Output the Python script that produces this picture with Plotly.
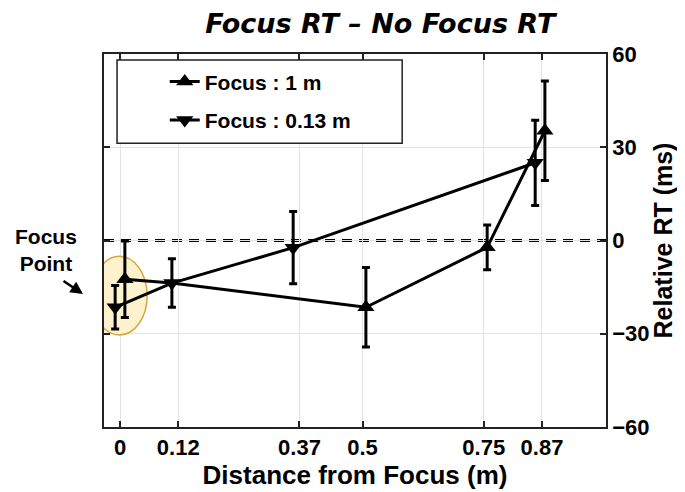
import plotly.graph_objects as go

# ---------------- data ----------------
tick_vals = [0, 0.12, 0.37, 0.5, 0.75, 0.87]
tick_text = ["0", "0.12", "0.37", "0.5", "0.75", "0.87"]
y_ticks = [-60, -30, 0, 30, 60]

far_x = [0.01, 0.507, 0.757, 0.876]          # Focus : 1 m (slightly dodged)
far_y = [-12.5, -21.5, -2.2, 35.3]
far_err = [12.3, 12.8, 7.2, 16.0]

near_x = [-0.01, 0.107, 0.357, 0.856]        # Focus : 0.13 m (slightly dodged)
near_y = [-21.5, -13.7, -2.3, 25.0]
near_err = [7.0, 7.8, 11.6, 13.7]

FONT = "Liberation Sans, Arial, sans-serif"

fig = go.Figure()

# connecting lines as drawn in the figure
line1_x = [far_x[0], near_x[1], far_x[1], far_x[2], far_x[3]]
line1_y = [far_y[0], near_y[1], far_y[1], far_y[2], far_y[3]]

fig.add_trace(go.Scatter(x=line1_x, y=line1_y, mode="lines",
                         line=dict(color="black", width=3), showlegend=False,
                         hoverinfo="skip"))
fig.add_trace(go.Scatter(x=near_x, y=near_y, mode="lines",
                         line=dict(color="black", width=3), showlegend=False,
                         hoverinfo="skip"))

fig.add_trace(go.Scatter(
    x=far_x, y=far_y, mode="markers", name="Focus : 1 m", showlegend=False,
    marker=dict(symbol="triangle-up", size=15, color="black"),
    error_y=dict(type="data", array=far_err, color="black", thickness=3, width=4),
))
fig.add_trace(go.Scatter(
    x=near_x, y=near_y, mode="markers", name="Focus : 0.13 m", showlegend=False,
    marker=dict(symbol="triangle-down", size=15, color="black"),
    error_y=dict(type="data", array=near_err, color="black", thickness=3, width=4),
))
# legend entries
fig.add_trace(go.Scatter(
    x=[None], y=[None], mode="lines+markers", name="Focus : 1 m",
    line=dict(color="black", width=3),
    marker=dict(symbol="triangle-up", size=15, color="black"), legendgroup="a"))
fig.add_trace(go.Scatter(
    x=[None], y=[None], mode="lines+markers", name="Focus : 0.13 m",
    line=dict(color="black", width=3),
    marker=dict(symbol="triangle-down", size=15, color="black"), legendgroup="b"))

fig.update_layout(
    width=677, height=484,
    margin=dict(l=96, r=79, t=46, b=65),
    paper_bgcolor="white", plot_bgcolor="white",
    font=dict(family=FONT, color="black"),
    title=dict(text="<i>Focus RT – No Focus RT</i>",
               font=dict(family="DejaVu Sans, Verdana, sans-serif", size=27,
                         weight="bold", color="black"),
               x=0.55, xanchor="center", y=0.967, yanchor="middle"),
    xaxis=dict(range=[-0.033, 1.002], tickvals=tick_vals, ticktext=tick_text,
               showgrid=True, gridcolor="#e3e3e3", gridwidth=1.2,
               showline=True, linecolor="#222", linewidth=1.5, mirror="ticks",
               ticks="inside", ticklen=6, tickcolor="#222", tickwidth=1.5,
               tickfont=dict(size=22, weight="bold", family=FONT),
               title=dict(text="Distance from Focus (m)",
                          font=dict(size=26, weight="bold", family=FONT), standoff=4),
               zeroline=False, automargin=False),
    yaxis=dict(range=[-60, 60], side="right", tickvals=y_ticks,
               showgrid=True, gridcolor="#e3e3e3", gridwidth=1.2,
               showline=True, linecolor="#222", linewidth=1.5, mirror="ticks",
               ticks="inside", ticklen=6, tickcolor="#222", tickwidth=1.5,
               tickfont=dict(size=22, weight="bold", family=FONT),
               title=dict(text="Relative RT (ms)",
                          font=dict(size=25, weight="bold", family=FONT), standoff=4),
               zeroline=False, automargin=False),
    legend=dict(x=0.121, y=0.98, xanchor="left", yanchor="top",
                bgcolor="rgba(0,0,0,0)", borderwidth=0,
                font=dict(size=21, weight="bold", family=FONT),
                tracegroupgap=8),
    showlegend=True,
)

# legend box
fig.add_shape(type="rect", xref="paper", yref="paper",
              x0=0.026, x1=0.594, y0=0.761, y1=0.984,
              fillcolor="white", line=dict(color="#222", width=1.5), layer="above")
# zero dashed line (white backing hides the grey grid line under the gaps)
fig.add_shape(type="line", xref="paper", yref="y", x0=0, x1=1, y0=0, y1=0,
              line=dict(color="white", width=4), layer="between")
fig.add_shape(type="line", xref="paper", yref="y", x0=0, x1=1, y0=0, y1=0,
              line=dict(color="black", width=3, dash="10px,7px"), layer="between")
# focus ellipse
fig.add_shape(type="circle", xref="x", yref="y",
              x0=-0.058, x1=0.056, y0=-30.4, y1=-5.1,
              fillcolor="rgb(253,242,205)", line=dict(color="rgb(212,168,60)", width=1.5),
              layer="between")

fig.add_annotation(text="<b>Focus<br>Point</b>", xref="paper", yref="paper",
                   x=-0.116, y=0.474, xanchor="center", yanchor="middle",
                   showarrow=False,
                   font=dict(size=21, family=FONT, color="black"))
fig.add_annotation(text="", xref="paper", yref="paper", x=-0.0418, y=0.3566,
                   ax=-21, ay=-14, showarrow=True, arrowhead=2, arrowsize=1,
                   arrowwidth=2.5, arrowcolor="black")

fig.write_html("out.html")
